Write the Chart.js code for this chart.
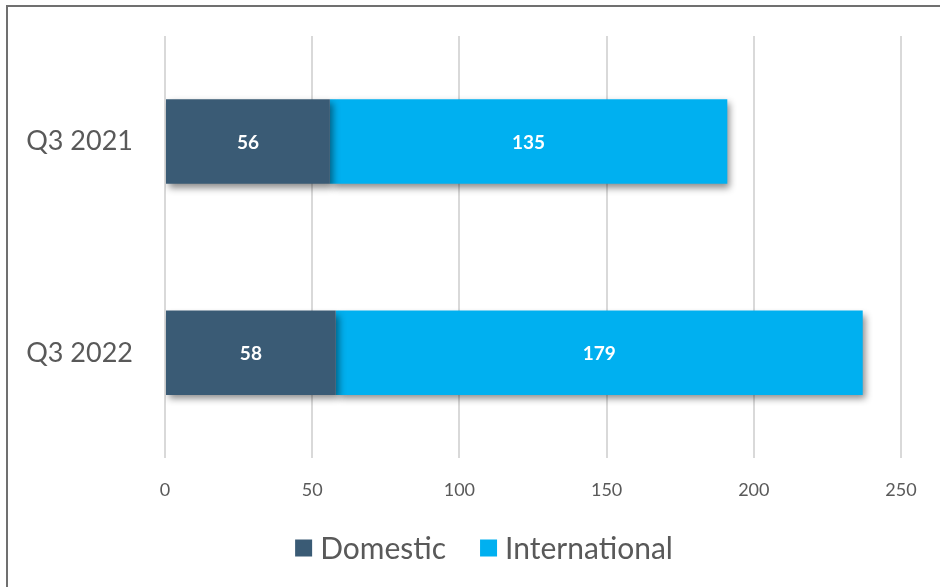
<!DOCTYPE html>
<html>
<head>
<meta charset="utf-8">
<script src="https://cdn.jsdelivr.net/npm/chart.js@4.4.1/dist/chart.umd.min.js"></script>
<style>
  html, body { margin: 0; padding: 0; background: #ffffff; overflow: hidden; }
  #wrap { position: relative; width: 940px; height: 587px; }
  #frame { position: absolute; left: 6px; top: 5px; width: 960px; height: 620px;
           border-top: 2px solid #707070; border-left: 2px solid #707070; box-sizing: border-box; pointer-events: none; }
  canvas { position: absolute; left: 0; top: 0; }
</style>
</head>
<body>
<div id="wrap">
  <canvas id="c" width="940" height="587"></canvas>
  <div id="frame"></div>
</div>
<script>
const categories = ["Q3 2021", "Q3 2022"];
const domestic = [56, 58];
const international = [135, 179];
const seriesNames = ["Domestic", "International"];
const seriesColors = ["#3A5B75", "#00B0F0"];
const xTicks = [0, 50, 100, 150, 200, 250];

const FONT = "Lato, 'Open Sans', sans-serif";

const shadowPlugin = {
  id: 'barShadow',
  beforeDatasetsDraw(chart) {
    const ctx = chart.ctx;
    ctx.save();
    ctx.shadowColor = 'rgba(0,0,0,0.45)';
    ctx.shadowBlur = 7;
    ctx.shadowOffsetX = 3;
    ctx.shadowOffsetY = 4;
  },
  afterDatasetsDraw(chart) {
    chart.ctx.restore();
  }
};

const labelPlugin = {
  id: 'valueLabels',
  afterDraw(chart) {
    const ctx = chart.ctx;
    ctx.save();
    ctx.fillStyle = '#ffffff';
    ctx.font = "bold 19px " + FONT;
    ctx.textAlign = 'center';
    ctx.textBaseline = 'middle';
    chart.data.datasets.forEach((ds, di) => {
      const meta = chart.getDatasetMeta(di);
      meta.data.forEach((bar, i) => {
        const cx = (bar.x + bar.base) / 2;
        ctx.fillText(String(ds.data[i]), cx, bar.y + 1);
      });
    });
    ctx.restore();
  }
};

const legendPlugin = {
  id: 'customLegend',
  afterDraw(chart) {
    const ctx = chart.ctx;
    ctx.save();
    ctx.font = "30px " + FONT;
    ctx.textBaseline = 'middle';
    ctx.textAlign = 'left';
    const box = 17, gapText = 8, gapItem = 34;
    const widths = chart.data.datasets.map(ds => box + gapText + ctx.measureText(ds.label).width);
    const total = widths.reduce((a, b) => a + b, 0) + gapItem * (widths.length - 1);
    let x = (chart.width - total) / 2 + 14;
    const y = 548;
    chart.data.datasets.forEach((ds, i) => {
      ctx.fillStyle = ds.backgroundColor;
      ctx.fillRect(x, y - box / 2, box, box);
      ctx.fillStyle = '#595959';
      ctx.fillText(ds.label, x + box + gapText, y + 1);
      x += widths[i] + gapItem;
    });
    ctx.restore();
  }
};

new Chart(document.getElementById('c'), {
  type: 'bar',
  data: {
    labels: categories,
    datasets: [
      { label: seriesNames[0], data: domestic, backgroundColor: seriesColors[0], borderWidth: 0 },
      { label: seriesNames[1], data: international, backgroundColor: seriesColors[1], borderWidth: 0 }
    ]
  },
  options: {
    indexAxis: 'y',
    responsive: false,
    animation: false,
    devicePixelRatio: 1,
    layout: { padding: { left: 0, right: 39, top: 36, bottom: 65 } },
    datasets: { bar: { barPercentage: 0.5, categoryPercentage: 0.8 } },
    scales: {
      x: {
        stacked: true,
        min: 0, max: 250,
        afterBuildTicks(axis) { axis.ticks = xTicks.map(v => ({ value: v })); },
        afterFit(axis) { axis.paddingLeft = 0; axis.paddingRight = 0; },
        grid: { color: '#d9d9d9', lineWidth: 2, drawTicks: false },
        border: { display: false },
        ticks: { color: '#595959', font: { family: FONT, size: 18 }, padding: 21 }
      },
      y: {
        stacked: true,
        afterFit(axis) { axis.width = 165; axis.paddingTop = 0; axis.paddingBottom = 0; },
        grid: { display: false, drawTicks: false },
        border: { display: false },
        ticks: { color: '#595959', font: { family: FONT, size: 27 }, padding: 32 }
      }
    },
    plugins: {
      legend: { display: false },
      tooltip: { enabled: false }
    }
  },
  plugins: [shadowPlugin, labelPlugin, legendPlugin]
});
</script>
</body>
</html>
